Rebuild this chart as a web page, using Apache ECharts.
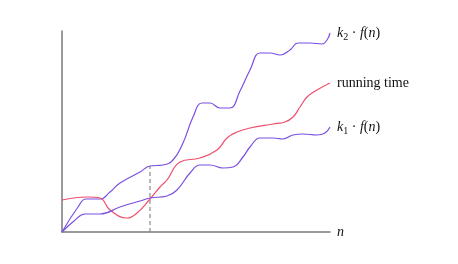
<!DOCTYPE html>
<html><head><meta charset="utf-8">
<script src="https://cdn.jsdelivr.net/npm/echarts@6/dist/echarts.min.js"></script>
<style>html,body{margin:0;padding:0;background:#fff}#c{width:458px;height:264px}</style>
</head><body><div id="c"></div>
<script>
// [n, value] pairs (axis units)
const k2f = [[0,0],[16,25],[24,33],[38,33],[48,40],[58,49],[78,60],[88,66],[101,67],[111,72],[121,89],[131,115],[140,129],[148,129],[158,124],[168,124],[178,141],[188,162],[198,179],[208,179],[218,177],[228,182],[236,189],[248,189],[260,188],[265,192],[268,199]];
const runningTime = [[0,32],[25,35],[38,34],[48,22],[65,14],[75,19],[88,33],[98,45],[105,52],[118,70],[138,74],[155,82],[165,94],[175,100],[188,104],[211,108],[223,110],[231,115],[238,125],[245,135],[255,142],[268,149]];
const k1f = [[0,0],[12,11],[23,18],[38,18],[58,25],[78,31],[88,34],[105,36],[115,42],[128,59],[138,67],[148,67],[161,64],[171,65],[181,75],[188,85],[198,94],[211,94],[221,93],[231,97],[241,98],[255,97],[263,99],[268,105]];
const n0 = 88;
const dashLine = [[n0,0],[n0,66]];
const labels = {k2:'{i|k}{s|2}{r| · }{i|f}{r|(}{i|n}{r|)}', rt:'{r|running time}', k1:'{i|k}{s|1}{r| · }{i|f}{r|(}{i|n}{r|)}'};

const purple = '#7b4fe3', red = '#ef4f6e';
const rich = {
  i:{fontFamily:'Liberation Serif',fontStyle:'italic',fontSize:14,color:'#111'},
  r:{fontFamily:'Liberation Serif',fontSize:14,color:'#111'},
  s:{fontFamily:'Liberation Serif',fontSize:10,color:'#111',verticalAlign:'bottom',padding:[8,0,0,0]}
};
function lineSeries(data,color,label){
  return {type:'line',data:data,smooth:0.45,symbol:'none',
    lineStyle:{color:color,width:1.2},
    endLabel:{show:true,formatter:label,distance:7,rich:rich}};
}
const chart = echarts.init(document.getElementById('c'));
chart.setOption({
  animation:false,
  grid:{left:62,right:128,top:31,bottom:32},
  xAxis:{type:'value',min:0,max:268,
    axisLine:{show:true,lineStyle:{color:'#7a7a7a',width:1.5}},
    axisTick:{show:false},axisLabel:{show:false},splitLine:{show:false},
    name:'n',nameLocation:'end',nameGap:7,
    nameTextStyle:{fontFamily:'Liberation Serif',fontStyle:'italic',fontSize:14,color:'#111',padding:[3,0,0,0]}},
  yAxis:{type:'value',min:0,max:201,
    axisLine:{show:true,lineStyle:{color:'#7a7a7a',width:1.5}},
    axisTick:{show:false},axisLabel:{show:false},splitLine:{show:false}},
  series:[
    {type:'line',data:dashLine,symbol:'none',lineStyle:{color:'#888',width:1.2,type:[4,3]},z:1},
    lineSeries(k2f,purple,labels.k2),
    lineSeries(runningTime,red,labels.rt),
    lineSeries(k1f,purple,labels.k1)
  ]
});
</script></body></html>
